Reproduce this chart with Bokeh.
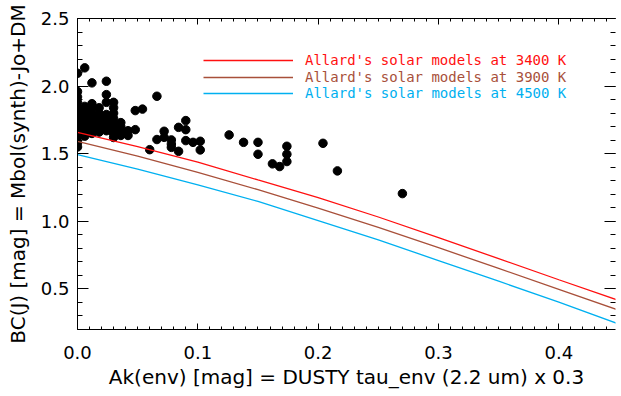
from bokeh.plotting import figure
from bokeh.models import (Range1d, LinearAxis, SingleIntervalTicker, NumeralTickFormatter,
                          Legend, LegendItem, CustomLabelingPolicy)
from bokeh.embed import file_html
from bokeh.resources import INLINE

# ---- data -------------------------------------------------------------
ak_env = ([0.0] * 14 + [0.006] * 9 + [0.012] * 9 + [0.018] * 7 + [0.024] * 8 +
          [0.030] * 8 + [0.036] * 4 + [0.042] * 2 + [0.048] * 2 + [0.054] +
          [0.060] + [0.066] * 2 + [0.072] * 2 + [0.078] * 3 + [0.084] * 2 +
          [0.090] * 3 + [0.096] + [0.102] * 2 + [0.126] + [0.138] + [0.150] * 2 +
          [0.162] + [0.168] + [0.174] * 3 + [0.204] + [0.216] + [0.270])
bc_j = [2.095, 1.96, 1.92, 1.88, 1.84, 1.80, 1.77, 1.74, 1.71, 1.68, 1.65, 1.62, 1.58, 1.55,
        2.135, 1.85, 1.81, 1.78, 1.75, 1.72, 1.69, 1.66, 1.63,
        2.024, 1.87, 1.83, 1.79, 1.76, 1.73, 1.70, 1.67, 1.65,
        1.84, 1.80, 1.77, 1.74, 1.71, 1.68, 1.66,
        2.036, 1.937, 1.88, 1.79, 1.76, 1.73, 1.70, 1.67,
        1.88, 1.84, 1.80, 1.76, 1.72, 1.68, 1.65, 1.62,
        1.73, 1.70, 1.67, 1.635,
        1.67, 1.635,
        1.819, 1.678,
        1.83,
        1.53,
        1.925, 1.605,
        1.666, 1.621,
        1.602, 1.572, 1.547,
        1.695, 1.518,
        1.745, 1.678, 1.597,
        1.584,
        1.592, 1.528,
        1.639,
        1.584,
        1.584, 1.496,
        1.425,
        1.405,
        1.555, 1.496, 1.442,
        1.577,
        1.373,
        1.205]

model_ak = [0.00, 0.05, 0.10, 0.15, 0.20, 0.25, 0.30, 0.35, 0.40, 0.45]
bc_3400 = [1.658, 1.553, 1.437, 1.306, 1.176, 1.032, 0.880, 0.724, 0.568, 0.414]
bc_3900 = [1.592, 1.483, 1.362, 1.234, 1.098, 0.955, 0.805, 0.652, 0.497, 0.342]
bc_4500 = [1.493, 1.386, 1.270, 1.147, 1.006, 0.862, 0.710, 0.557, 0.402, 0.240]

model_labels = ["Allard's solar models at 3400 K",
                "Allard's solar models at 3900 K",
                "Allard's solar models at 4500 K"]
model_colors = ["#ff1010", "#a8503a", "#00b0f0"]

x_title = "Ak(env) [mag] = DUSTY tau_env (2.2 um) x 0.3"
y_title = "BC(J) [mag] = Mbol(synth)-Jo+DM"

FONT = "DejaVu Sans"
LEGEND_FONT = "DejaVu Sans Mono"

# ---- figure -----------------------------------------------------------
p = figure(width=621, height=396, output_backend="svg", toolbar_location=None,
           x_range=Range1d(0.0, 0.4471), y_range=Range1d(0.2, 2.5),
           min_border_left=77, min_border_right=0, min_border_top=18,
           min_border_bottom=67, outline_line_color=None,
           background_fill_color="white", border_fill_color="white")
p.xgrid.visible = False
p.ygrid.visible = False


def style_axis(ax, interval, nminor, maj, mnr, show_labels, line=True):
    ax.ticker = SingleIntervalTicker(interval=interval, num_minor_ticks=nminor)
    ax.formatter = NumeralTickFormatter(format="0.0")
    ax.major_tick_in = maj
    ax.major_tick_out = 0
    ax.minor_tick_in = mnr
    ax.minor_tick_out = 0
    ax.major_tick_line_color = "black"
    ax.minor_tick_line_color = "black"
    ax.axis_line_color = "black" if line else None
    if show_labels:
        ax.major_label_text_font = FONT
        ax.major_label_text_font_size = "18px"
        ax.major_label_text_color = "black"
    else:
        # mirror axis: ticks only, no labels drawn at all
        ax.major_label_policy = CustomLabelingPolicy(code="return []")
        ax.major_label_text_font_size = "2px"
        ax.major_label_standoff = 0


xb = p.xaxis[0]
style_axis(xb, 0.1, 10, 6, 3, True)
xb.major_label_standoff = 16
xb.axis_label = x_title
xb.axis_label_text_font = FONT
xb.axis_label_text_font_size = "20px"
xb.axis_label_text_font_style = "normal"
xb.axis_label_text_color = "black"
xb.axis_label_standoff = 3

yl = p.yaxis[0]
style_axis(yl, 0.5, 5, 11, 5, True)
yl.major_label_standoff = 8
yl.axis_label = y_title
yl.axis_label_text_font = FONT
yl.axis_label_text_font_size = "20px"
yl.axis_label_text_font_style = "normal"
yl.axis_label_text_color = "black"
yl.axis_label_standoff = 8

xt = LinearAxis()
style_axis(xt, 0.1, 10, 6, 3, False)
p.add_layout(xt, "above")

yr = LinearAxis()
style_axis(yr, 0.5, 5, 11, 5, False, line=False)
p.add_layout(yr, "right")

# ---- glyphs -----------------------------------------------------------
p.scatter(ak_env, bc_j, size=8.5, color="black", line_color="black")

rends = []
for ys, col in zip([bc_3400, bc_3900, bc_4500], model_colors):
    rends.append(p.line(model_ak, ys, line_color=col, line_width=1.3))

legend_y = [261, 244, 228]
for r, lab, col, ly in zip(rends, model_labels, model_colors, legend_y):
    leg = Legend(items=[LegendItem(label=lab, renderers=[r])], location=(126, ly),
                 glyph_width=90, glyph_height=14, label_height=14, label_standoff=12,
                 padding=0, margin=0, spacing=0, background_fill_alpha=0,
                 border_line_color=None, label_text_color=col,
                 label_text_font=LEGEND_FONT, label_text_font_size="14px")
    p.add_layout(leg)

open("out.html", "w").write(file_html(p, INLINE))
